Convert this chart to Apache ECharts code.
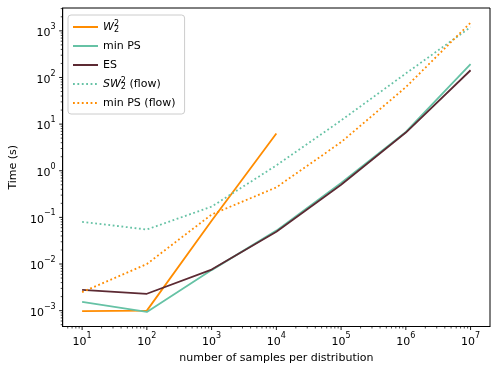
<!DOCTYPE html>
<html>
<head>
<meta charset="utf-8">
<script src="https://cdn.jsdelivr.net/npm/echarts@6/dist/echarts.min.js"></script>
<style>
  html, body { margin: 0; padding: 0; background: #fff; }
  #chart { width: 499px; height: 374px; }
</style>
</head>
<body>
<div id="chart"></div>
<script>
// samples per distribution
const samples = [1e1, 1e2, 1e3, 1e4, 1e5, 1e6, 1e7];

// time in seconds
const w2 = [9.8e-4, 1.0e-3, 0.085, 6.3];
const minPS = [1.55e-3, 9.4e-4, 7.4e-3, 0.052, 0.55, 6.8, 194];
const es = [2.8e-3, 2.3e-3, 7.6e-3, 0.049, 0.50, 6.6, 143];
const sw2Flow = [0.080, 0.055, 0.17, 1.3, 12, 122, 1200];
const minPSFlow = [2.5e-3, 0.010, 0.115, 0.44, 4.1, 62, 1500];

const X_MIN = Math.pow(10, 0.7), X_MAX = Math.pow(10, 7.3);
const Y_MIN = Math.pow(10, -3.34), Y_MAX = Math.pow(10, 3.49);

const ORANGE = '#ff8c00';
const TEAL = '#66c2a5';
const BROWN = '#5c2a33';
const FONT = 'DejaVu Sans';

const pairs = (ys) => ys.map((y, i) => [samples[i], y]);

// tick marks (major + minor) drawn through the axes' own scale
const tickData = [];
for (let n = 0; n <= 7; n++) {
  for (let k = 1; k <= 9; k++) {
    const v = k * Math.pow(10, n);
    if (v >= X_MIN && v <= X_MAX) tickData.push([v, Y_MIN, k === 1 ? 1 : 0, 0]);
  }
}
for (let n = -4; n <= 3; n++) {
  for (let k = 1; k <= 9; k++) {
    const v = k * Math.pow(10, n);
    if (v >= Y_MIN && v <= Y_MAX) tickData.push([X_MIN, v, k === 1 ? 1 : 0, 1]);
  }
}

const powLabel = (v) => {
  const e = Math.log10(v);
  const r = Math.round(e);
  if (Math.abs(e - r) > 1e-6) return '';
  return '{b|10}{e|' + String(r).replace('-', '\u2212') + '}';
};

const labelRich = {
  b: { fontSize: 11, fontFamily: FONT, color: '#000', lineHeight: 16, verticalAlign: 'bottom' },
  e: { fontSize: 8, fontFamily: FONT, color: '#000', lineHeight: 16, verticalAlign: 'top' }
};

const legendNames = {
  'W2': '{it|W}{sup|2}{sub|2}',
  'min PS': '{t|min PS}',
  'ES': '{t|ES}',
  'SW2 (flow)': '{it|SW}{sup|2}{sub|2}{t| (flow)}',
  'min PS (flow)': '{t|min PS (flow)}'
};

const chart = echarts.init(document.getElementById('chart'));
chart.setOption({
  animation: false,
  backgroundColor: '#fff',
  grid: { left: 62, right: 9, top: 8, bottom: 47.5, show: true, borderColor: '#000', borderWidth: 1, containLabel: false },
  legend: {
    orient: 'vertical',
    left: 68,
    top: 15,
    data: ['W2', 'min PS', 'ES', 'SW2 (flow)', 'min PS (flow)'],
    itemWidth: 25,
    itemHeight: 14,
    itemGap: 5,
    itemTextGap: 11,
    itemStyle: { opacity: 0 },
    padding: [5, 9, 4, 4],
    backgroundColor: 'rgba(255,255,255,0.8)',
    borderColor: '#cccccc',
    borderWidth: 1,
    borderRadius: 3,
    formatter: (name) => legendNames[name],
    textStyle: {
      fontSize: 11, fontFamily: FONT, color: '#000', lineHeight: 14,
      rich: {
        t: { fontSize: 11, fontFamily: FONT, color: '#000', lineHeight: 14 },
        it: { fontSize: 11, fontFamily: FONT, fontStyle: 'italic', color: '#000', lineHeight: 14 },
        sup: { fontSize: 8, fontFamily: FONT, color: '#000', width: 0, verticalAlign: 'top', lineHeight: 7 },
        sub: { fontSize: 8, fontFamily: FONT, color: '#000', verticalAlign: 'bottom', lineHeight: 6 }
      }
    }
  },
  xAxis: {
    type: 'log',
    logBase: 10,
    min: X_MIN,
    max: X_MAX,
    splitNumber: 7,
    name: 'number of samples per distribution',
    nameLocation: 'middle',
    nameGap: 24,
    nameTextStyle: { fontSize: 11, fontFamily: FONT, color: '#000' },
    axisLine: { show: true, lineStyle: { color: '#000', width: 1 } },
    axisTick: { show: false },
    minorTick: { show: false },
    splitLine: { show: false },
    axisLabel: {
      margin: 5,
      formatter: powLabel,
      rich: labelRich,
      showMinLabel: false,
      showMaxLabel: false
    }
  },
  yAxis: {
    type: 'log',
    logBase: 10,
    min: Y_MIN,
    max: Y_MAX,
    splitNumber: 7,
    name: 'Time (s)',
    nameLocation: 'middle',
    nameGap: 42,
    nameTextStyle: { fontSize: 11, fontFamily: FONT, color: '#000' },
    axisLine: { show: true, lineStyle: { color: '#000', width: 1 } },
    axisTick: { show: false },
    minorTick: { show: false },
    splitLine: { show: false },
    axisLabel: {
      margin: 7,
      formatter: powLabel,
      rich: labelRich,
      showMinLabel: false,
      showMaxLabel: false
    }
  },
  series: [
    {
      name: 'W2', type: 'line', data: pairs(w2), symbol: 'none',
      lineStyle: { color: ORANGE, width: 1.8 }, itemStyle: { color: ORANGE }
    },
    {
      name: 'min PS', type: 'line', data: pairs(minPS), symbol: 'none',
      lineStyle: { color: TEAL, width: 1.8 }, itemStyle: { color: TEAL }
    },
    {
      name: 'ES', type: 'line', data: pairs(es), symbol: 'none',
      lineStyle: { color: BROWN, width: 1.8 }, itemStyle: { color: BROWN }
    },
    {
      name: 'SW2 (flow)', type: 'line', data: pairs(sw2Flow), symbol: 'none',
      lineStyle: { color: TEAL, width: 1.8, type: [1.8, 2.6] }, itemStyle: { color: TEAL }
    },
    {
      name: 'min PS (flow)', type: 'line', data: pairs(minPSFlow), symbol: 'none',
      lineStyle: { color: ORANGE, width: 1.8, type: [1.8, 2.6] }, itemStyle: { color: ORANGE }
    },
    {
      name: 'ticks',
      type: 'custom',
      clip: false,
      silent: true,
      data: tickData,
      encode: { x: 0, y: 1 },
      renderItem: (params, api) => {
        const p = api.coord([api.value(0), api.value(1)]);
        const major = api.value(2) === 1;
        const len = major ? 3.5 : 2;
        const shape = api.value(3) === 1
          ? { x1: p[0], y1: p[1], x2: p[0] - len, y2: p[1] }
          : { x1: p[0], y1: p[1], x2: p[0], y2: p[1] + len };
        return { type: 'line', shape: shape, style: { stroke: '#000', lineWidth: major ? 0.9 : 0.7 } };
      },
      z: 5
    }
  ]
});
</script>
</body>
</html>
